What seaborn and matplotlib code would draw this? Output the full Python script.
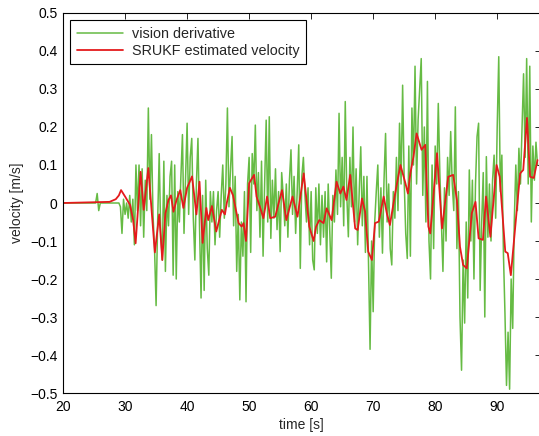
import numpy as np
import pandas as pd
import matplotlib
matplotlib.use("Agg")
import matplotlib.pyplot as plt
import seaborn as sns

# vision derivative, sampled every 0.25 s from t = 20 s
green_t0 = 20.0
green_dt = 0.25
green_v = [
    0, 0, 0, 0, 0, 0, 0, 0, 0, 0, 0, 0, 0, 0, 0, 0, 0, 0, 0, 0,          # 20-24.75
    0, 0, 0.025, -0.02, 0, 0, 0, 0, 0, 0, 0, 0, 0, 0, 0, 0,              # 25-28.75
    0.0, -0.01, -0.08, 0.01, -0.03, 0.0, -0.04, 0.02,                     # 29-30.75
    -0.05, 0.01, -0.11, 0.1, -0.02, 0.1, -0.06, 0.09,                     # 31-32.75
    -0.09, 0.06, -0.02, 0.25, 0.01, 0.18, -0.03, -0.12,                   # 33-34.75
    -0.27, -0.05, 0.13, -0.08, -0.15, 0.11, -0.18, 0.02,                  # 35-36.75
    -0.06, 0.07, 0.11, -0.19, 0.1, -0.2, 0.03, -0.05,                     # 37-38.75
    0.07, 0.18, -0.08, 0.06, 0.21, -0.03, 0.12, 0.17,                     # 39-40.75
    -0.04, -0.15, 0.05, 0.17, -0.06, -0.25, 0.02, -0.23,                  # 41-42.75
    0.06, -0.12, -0.19, 0.03, -0.05, 0.03, -0.11, -0.02,                  # 43-44.75
    0.03, -0.09, 0.02, 0.1, -0.04, 0.05, 0.25, -0.01,                     # 45-46.75
    0.09, 0.175, -0.06, 0.07, -0.18, -0.03, -0.255, -0.05,                # 47-48.75
    -0.14, 0.03, -0.26, 0.05, 0.12, -0.13, 0.13, 0.05,                    # 49-50.75
    0.205, -0.02, 0.08, -0.09, 0.11, -0.14, 0.05, 0.218,                  # 51-52.75
    -0.05, 0.227, -0.093, 0.06, -0.04, 0.09, -0.07, 0.03,                 # 53-54.75
    -0.128, 0.08, 0.02, -0.06, 0.05, -0.09, 0.06, 0.14,                   # 55-56.75
    -0.03, 0.07, -0.08, 0.03, 0.153, -0.172, 0.07, 0.12,                  # 57-58.75
    0.02, -0.05, 0.04, -0.11, 0.03, -0.15, -0.176, 0.04,                  # 59-60.75
    -0.08, 0.05, -0.11, 0.02, -0.09, 0.03, -0.155, 0.05,                  # 61-62.75
    -0.07, -0.198, 0.02, -0.05, 0.087, -0.03, 0.236, -0.01,               # 63-64.75
    0.12, -0.06, 0.267, 0.02, -0.089, 0.12, -0.01, 0.2,                   # 65-66.75
    -0.05, 0.09, -0.11, 0.03, 0.148, -0.06, 0.07, -0.13,                  # 67-68.75
    0.07, -0.16, -0.385, -0.1, -0.286, -0.05, 0.03, 0.1,                  # 69-70.75
    -0.09, 0.04, -0.132, 0.06, 0.183, -0.05, 0.05, -0.12,                 # 71-72.75
    -0.163, 0.03, -0.04, 0.12, -0.02, 0.21, 0.05, 0.31,                   # 73-74.75
    0.06, -0.08, -0.146, 0.15, -0.14, 0.25, 0.1, 0.36,                    # 75-76.75
    0.05, 0.22, 0.3, 0.38, 0.02, 0.2, -0.05, 0.32,                        # 77-78.75
    -0.1, -0.2, 0.1, -0.12, 0.15, 0.05, 0.262, 0.08,                      # 79-80.75
    -0.05, -0.18, 0.04, -0.1, 0.12, 0.02, 0.188, 0.05,                    # 81-82.75
    -0.02, 0.253, -0.12, 0.03, -0.3, -0.44, -0.15, -0.316,                # 83-84.75
    -0.05, -0.25, 0.087, -0.1, 0.06, -0.2, 0.05, 0.175,                   # 85-86.75
    0.21, -0.23, -0.05, 0.08, -0.3, 0.122, -0.09, 0.05,                   # 87-88.75
    -0.1, 0.06, 0.126, -0.04, 0.2, 0.385, 0.03, 0.126,                    # 89-90.75
    -0.13, -0.29, -0.48, -0.34, -0.49, -0.2, -0.33, -0.05,                # 91-92.75
    0.1, -0.02, 0.144, 0.05, 0.2, 0.34, 0.12, 0.38,                       # 93-94.75
    0.05, 0.36, -0.05, 0.15, 0.06, 0.16, 0.1,                             # 95-96.5
]
green_t = green_t0 + green_dt * np.arange(len(green_v))

# SRUKF estimated velocity
red_t = [20.0, 27.5, 28.5, 29.0, 29.35, 30.0, 30.8, 31.3, 31.7, 32.5, 33.0, 33.75,
         34.8, 35.5, 36.0, 36.5, 37.0, 37.4, 37.8, 38.3, 38.9, 39.4, 40.0, 40.8,
         41.5, 42.0, 42.5, 43.1, 43.4, 44.0, 44.7, 45.6, 46.1, 46.4, 46.9, 47.4,
         48.3, 48.8, 49.1, 49.5, 50.0, 50.8, 51.2, 51.8, 52.3, 52.9, 53.4, 54.2,
         55.3, 56.0, 57.0, 57.8, 58.8, 59.7, 60.4, 60.8, 61.3, 62.0, 62.5, 63.3,
         64.1, 64.7, 65.2, 65.7, 66.3, 67.1, 67.5, 68.2, 68.7, 69.2, 69.8, 70.3,
         70.9, 71.7, 72.2, 72.7, 73.5, 74.4, 75.2, 75.6, 76.0, 76.5, 77.0, 77.8,
         78.4, 78.9, 79.2, 80.3, 81.1, 82.1, 82.9, 83.5, 84.0, 84.5, 85.1, 85.9,
         86.5, 87.0, 87.7, 88.2, 88.9, 89.9, 90.4, 91.3, 91.7, 92.2, 93.2, 93.7,
         94.2, 94.8, 95.3, 95.9, 96.5]
red_v = [0.0, 0.003, 0.01, 0.02, 0.034, 0.017, -0.005, -0.045, -0.106, 0.082, -0.018, 0.092,
         -0.13, -0.03, -0.15, -0.027, 0.008, 0.02, -0.023, 0.008, 0.034, -0.013, 0.04, 0.07,
         -0.03, 0.056, -0.105, -0.013, -0.045, -0.008, -0.075, -0.018, -0.03, 0.0, 0.04, 0.02,
         -0.053, -0.062, -0.053, -0.1, 0.052, 0.074, 0.017, -0.013, -0.04, 0.017, -0.04, -0.036,
         0.034, -0.045, 0.017, -0.036, 0.078, -0.062, -0.1, -0.062, -0.045, -0.053, -0.014, -0.045,
         0.056, 0.025, 0.043, 0.008, 0.074, -0.067, -0.071, 0.012, -0.023, -0.128, -0.15, -0.053,
         -0.049, 0.017, -0.027, -0.058, 0.021, 0.1, 0.052, 0.025, 0.078, 0.122, 0.183, 0.14,
         0.153, -0.062, -0.08, 0.131, -0.067, 0.069, 0.074, 0.008, -0.115, -0.163, -0.172, -0.027,
         0.003, -0.093, -0.097, 0.017, -0.089, 0.1, 0.069, -0.128, -0.132, -0.19, -0.01, 0.078,
         0.087, 0.224, 0.069, 0.066, 0.113]

y_ticks = [-0.5, -0.4, -0.3, -0.2, -0.1, 0, 0.1, 0.2, 0.3, 0.4, 0.5]
y_labels = ["\u22120.5", "\u22120.4", "\u22120.3", "\u22120.2", "\u22120.1", "0",
            "0.1", "0.2", "0.3", "0.4", "0.5"]
x_ticks = [20, 30, 40, 50, 60, 70, 80, 90]

green_df = pd.DataFrame({"t": green_t, "v": green_v})
red_df = pd.DataFrame({"t": red_t, "v": red_v})

sns.set_style("white")
plt.rcParams["font.family"] = ["Liberation Sans", "DejaVu Sans"]

fig = plt.figure(figsize=(5.39, 4.36), dpi=100)
ax = fig.add_axes([0.117, 0.0986, 0.886, 0.8716])

sns.lineplot(data=green_df, x="t", y="v", ax=ax, color="#66bb44", lw=1.1,
             sort=False, estimator=None, label="vision derivative")
sns.lineplot(data=red_df, x="t", y="v", ax=ax, color="#e41a1c", lw=1.3,
             sort=False, estimator=None, label="SRUKF estimated velocity")

ax.set_xlim(20, 97)
ax.set_ylim(-0.5, 0.5)
ax.set_xticks(x_ticks)
ax.set_yticks(y_ticks)
ax.set_yticklabels(y_labels)
ax.tick_params(direction="in", length=4, width=0.6, labelsize=10, colors="black",
               top=True, right=True)
ax.tick_params(axis="x", pad=5)
ax.tick_params(axis="y", pad=4)
for s in ax.spines.values():
    s.set_color("black")
    s.set_linewidth(0.8)
ax.set_xlabel("time [s]", fontsize=10, labelpad=3)
ax.set_ylabel("velocity [m/s]", fontsize=10, labelpad=4)

leg = ax.legend(loc="upper left", fontsize=10.4, frameon=True, fancybox=False,
                edgecolor="black", framealpha=1, handlelength=3.2,
                borderaxespad=0.5, borderpad=0.45, labelspacing=0.2,
                handletextpad=0.6)
leg.get_frame().set_linewidth(0.8)

fig.savefig("out.png", dpi=100)
